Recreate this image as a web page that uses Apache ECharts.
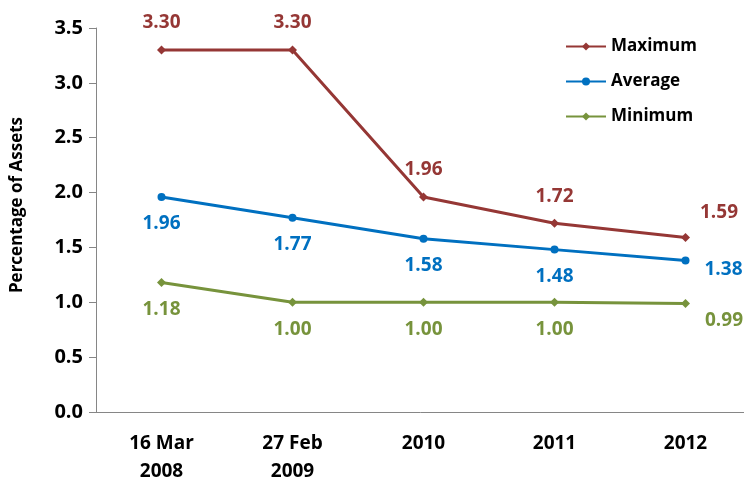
<!DOCTYPE html>
<html>
<head>
<meta charset="utf-8">
<script src="https://cdn.jsdelivr.net/npm/echarts@6/dist/echarts.min.js"></script>
<style>
  html, body { margin: 0; padding: 0; background: #fff; }
  #chart { width: 744px; height: 480px; }
</style>
</head>
<body>
<div id="chart"></div>
<script>
const categories = ['16 Mar\n2008', '27 Feb\n2009', '2010', '2011', '2012']
const maximum = [3.30, 3.30, 1.96, 1.72, 1.59]
const average = [1.96, 1.77, 1.58, 1.48, 1.38]
const minimum = [1.18, 1.00, 1.00, 1.00, 0.99]

const font = '"Open Sans", "Liberation Sans", sans-serif'

// the label of the last point sits off to the right
const withLabels = (values, lastLabel) => values.map((v, i) => i === values.length - 1
  ? { value: v, label: lastLabel }
  : v)

const makeSeries = (name, values, color, symbol, size, position, lastLabel) => ({
  name: name,
  type: 'line',
  data: withLabels(values, lastLabel),
  symbol: symbol,
  symbolSize: size,
  color: color,
  lineStyle: { width: 3, color: color },
  itemStyle: { color: color },
  label: {
    show: true,
    position: position,
    distance: 13,
    formatter: p => p.value.toFixed(2),
    color: color,
    fontFamily: font,
    fontWeight: 'bold',
    fontSize: 19
  }
})

const chart = echarts.init(document.getElementById('chart'))
chart.setOption({
  animation: false,
  grid: { left: 96, right: -7, top: 28, bottom: 68, outerBoundsMode: 'none' },
  legend: {
    orient: 'vertical',
    left: 560,
    top: 33,
    itemGap: 18,
    itemWidth: 40,
    itemHeight: 10,
    textStyle: { fontFamily: font, fontWeight: 'bold', fontSize: 17, color: '#000' },
    data: ['Maximum', 'Average', 'Minimum']
  },
  xAxis: {
    type: 'category',
    data: categories,
    boundaryGap: true,
    axisLine: { lineStyle: { color: '#868686', width: 1 } },
    axisTick: { length: 7, lineStyle: { color: '#868686' } },
    axisLabel: {
      margin: 18,
      color: '#000',
      fontFamily: font,
      fontWeight: 'bold',
      fontSize: 19,
      lineHeight: 28
    }
  },
  yAxis: {
    type: 'value',
    min: 0,
    max: 3.5,
    interval: 0.5,
    name: 'Percentage of Assets',
    nameLocation: 'middle',
    nameGap: 70,
    nameTextStyle: {
      fontFamily: font, fontWeight: 'bold', fontSize: 17, color: '#000',
      padding: [0, 0, 0, 30]
    },
    splitLine: { show: false },
    axisLine: { show: true, lineStyle: { color: '#868686', width: 1 } },
    axisTick: { show: true, length: 7, lineStyle: { color: '#868686' } },
    axisLabel: {
      margin: 13,
      color: '#000',
      fontFamily: font,
      fontWeight: 'bold',
      fontSize: 20,
      formatter: v => v.toFixed(1)
    }
  },
  series: [
    makeSeries('Maximum', maximum, '#953735', 'diamond', 9, 'top',
      { position: 'right', distance: 10, offset: [0, -25] }),
    makeSeries('Average', average, '#0070C0', 'circle', 8, 'bottom',
      { position: 'right', distance: 15, offset: [0, 9] }),
    makeSeries('Minimum', minimum, '#77933C', 'diamond', 9, 'bottom',
      { position: 'right', distance: 15, offset: [0, 17] })
  ]
})
</script>
</body>
</html>
